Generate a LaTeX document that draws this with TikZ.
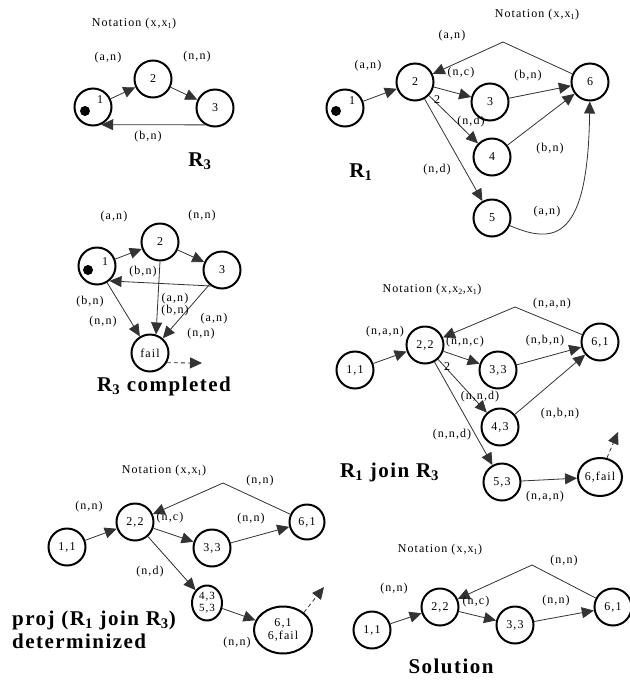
\documentclass[tikz,border=0pt]{standalone}
\usepackage{fontspec}
\setmainfont{Liberation Serif}
\newfontfamily\lblfamily[LetterSpace=9]{Liberation Serif}
\newfontfamily\ttlfamily[LetterSpace=7]{Liberation Serif}
\usetikzlibrary{arrows.meta,shapes.geometric}
\newcommand\lblsize{\lblfamily\fontsize{12}{13}\selectfont}
\newcommand\pairsize{\lblfamily\fontsize{11}{12}\selectfont}
\newcommand\ttlsize{\ttlfamily\bfseries\fontsize{21}{23}\selectfont}
\tikzset{
  st/.style={circle, draw, line width=2pt, minimum size=37pt, inner sep=0pt, font=\lblsize},
  est/.style={ellipse, draw, line width=2pt, inner sep=0pt, font=\lblsize, align=center},
  edge/.style={line width=0.8pt, draw=black!80, -{Triangle[length=12pt,width=11pt]}},
  dedge/.style={edge, dashed, dash pattern=on 4pt off 3pt},
  lbl/.style={font=\lblsize, inner sep=0pt},
  ttl/.style={font=\ttlsize, inner sep=0pt},
}
\begin{document}
\begin{tikzpicture}[x=1pt,y=-1pt]
\useasboundingbox[fill=white] (0,0) rectangle (630,681);

% ---------------- R3 ----------------
\node[lbl] (r3not) at (134,24) {Notation (x,x\textsubscript{1})};
\node[st] (r3n1) at (93,107) {};
\node[st] (r3n2) at (153,79) {2};
\node[st] (r3n3) at (215,108) {3};
\fill ([shift={(-8,4)}]r3n1.center) circle (5);
\node[lbl] (r3n1t) at ([shift={(7,-7)}]r3n1.center) {1};
\draw[edge] (r3n1) -- (r3n2);
\draw[edge] (r3n2) -- (r3n3);
\draw[edge] (r3n3.-120) -- (r3n1.-65);
\node[lbl] (r3l1) at (108,58) {(a,n)};
\node[lbl] (r3l2) at (197,57) {(n,n)};
\node[lbl] (r3l3) at (148,137) {(b,n)};
\node[ttl] (r3t) at (200,161) {R\textsubscript{3}};

% ---------------- R1 ----------------
\node[lbl] (r1not) at (537,15) {Notation (x,x\textsubscript{1})};
\node[st] (r1n1) at (345,108) {};
\node[st] (r1n2) at (415,82) {2};
\node[st] (r1n3) at (490,102) {3};
\node[st] (r1n4) at (492,157) {4};
\node[st] (r1n5) at (492,218) {5};
\node[st] (r1n6) at (590,82) {6};
\fill ([shift={(-9,3)}]r1n1.center) circle (5);
\node[lbl] (r1n1t) at ([shift={(7,-7)}]r1n1.center) {1};
\coordinate (r1b) at (503,42);
\draw[edge] (r1n1) -- (r1n2);
\draw[edge] (r1n2) -- (r1n3);
\draw[edge] (r1n2) -- (r1n4);
\draw[edge] (r1n2) -- (r1n5);
\draw[edge] (r1n3) -- (r1n6);
\draw[edge] (r1n4) -- (r1n6);
\draw[edge] (r1n5) .. controls (555,245) and (588,240) .. (r1n6);
\draw[edge] (r1n6) -- (r1b) -- (r1n2);
\node[lbl] (r1l1) at (452,36) {(a,n)};
\node[lbl] (r1l2) at (368,66) {(a,n)};
\node[lbl] (r1l3) at (461,73) {(n,c)};
\node[lbl] (r1l4) at (437,100) {2};
\node[lbl] (r1l5) at (471,122) {(n,d)};
\node[lbl] (r1l6) at (437,170) {(n,d)};
\node[lbl] (r1l7) at (528,76) {(b,n)};
\node[lbl] (r1l8) at (550,149) {(b,n)};
\node[lbl] (r1l9) at (547,212) {(a,n)};
\node[ttl] (r1t) at (361,172) {R\textsubscript{1}};

% ---------------- R3 completed ----------------
\node[st] (c1) at (97,266) {};
\node[st] (c2) at (160,242) {2};
\node[st] (c3) at (222,270) {3};
\node[st] (cf) at (150,353) {fail};
\fill ([shift={(-9,4)}]c1.center) circle (5);
\node[lbl] (c1t) at ([shift={(8,-4)}]c1.center) {1};
\coordinate (cfout) at (202,363);
\draw[edge] (c1) -- (c2);
\draw[edge] (c2) -- (c3);
\draw[edge] (c3.-125) -- (c1.-50);
\draw[edge] (c2.south) -- (cf.72);
\draw[edge] (c1) -- (cf);
\draw[edge] (c3) -- (cf);
\draw[dedge] (cf.-30) -- (cfout);
\node[lbl] (cl1) at (114,217) {(a,n)};
\node[lbl] (cl2) at (202,216) {(n,n)};
\node[lbl] (cl3) at (143,272) {(b,n)};
\node[lbl] (cl4) at (175,299) {(a,n)};
\node[lbl] (cl5) at (175,311) {(b,n)};
\node[lbl] (cl6) at (90,302) {(b,n)};
\node[lbl] (cl7) at (103,322) {(n,n)};
\node[lbl] (cl8) at (214,319) {(a,n)};
\node[lbl] (cl9) at (201,334) {(n,n)};
\node[ttl] (ct) at (164,386) {R\textsubscript{3} completed};

% ---------------- R1 join R3 ----------------
\node[lbl] (jnot) at (432,290) {Notation (x,x\textsubscript{2},x\textsubscript{1})};
\node[st] (j11) at (355,370) {1,1};
\node[st] (j22) at (425,345) {2,2};
\node[st] (j33) at (498,370) {3,3};
\node[st] (j43) at (500,427) {4,3};
\node[st] (j53) at (502,482) {5,3};
\node[st] (j61) at (600,342) {6,1};
\node[est, minimum width=44pt, minimum height=38pt] (j6f) at (600,477) {6,fail};
\coordinate (jb) at (515,307);
\coordinate (jstray) at (618,432);
\draw[edge] (j11) -- (j22);
\draw[edge] (j22) -- (j33);
\draw[edge] (j22) -- (j43);
\draw[edge] (j22) -- (j53);
\draw[edge] (j33) -- (j61);
\draw[edge] (j43) -- (j61);
\draw[edge] (j53) -- (j6f);
\draw[edge] (j61) -- (jb) -- (j22);
\draw[dedge] (j6f.70) -- (jstray);
\node[lbl] (jl1) at (552,304) {(n,a,n)};
\node[lbl] (jl2) at (385,332) {(n,a,n)};
\node[lbl] (jl3) at (465,342) {(n,n,c)};
\node[lbl] (jl4) at (447,367) {2};
\node[lbl] (jl5) at (545,341) {(n,b,n)};
\node[lbl] (jl6) at (480,397) {(n,n,d)};
\node[lbl] (jl7) at (560,414) {(n,b,n)};
\node[lbl] (jl8) at (452,435) {(n,n,d)};
\node[lbl] (jl9) at (545,497) {(n,a,n)};
\node[ttl, anchor=west] (jt) at (340,472) {R\textsubscript{1} join R\textsubscript{3}};

% ---------------- proj (R1 join R3) determinized ----------------
\node[lbl] (pnot) at (164,471) {Notation (x,x\textsubscript{1})};
\node[st] (p11) at (67,547) {1,1};
\node[st] (p22) at (135,522) {2,2};
\node[st] (p33) at (212,548) {3,3};
\node[st, minimum size=35pt] (p61) at (307,522) {6,1};
\node[est, minimum width=30pt, minimum height=35pt, font=\pairsize] (p45) at (207,603) {4,3\\5,3};
\node[est, minimum width=58pt, minimum height=47pt] (p6f) at (283,630) {6,1\\6,fail};
\coordinate (pb) at (223,483);
\coordinate (pstray) at (324,587);
\draw[edge] (p11) -- (p22);
\draw[edge] (p22) -- (p33);
\draw[edge] (p33) -- (p61);
\draw[edge] (p22) -- (p45);
\draw[edge] (p45) -- (p6f);
\draw[edge] (p61) -- (pb) -- (p22);
\draw[dedge] (p6f.40) -- (pstray);
\node[lbl] (pl1) at (260,481) {(n,n)};
\node[lbl] (pl2) at (89,507) {(n,n)};
\node[lbl] (pl3) at (170,518) {(n,c)};
\node[lbl] (pl4) at (251,519) {(n,n)};
\node[lbl] (pl5) at (150,572) {(n,d)};
\node[lbl] (pl6) at (237,643) {(n,n)};
\node[ttl, anchor=west, align=left] (pt) at (12,630) {proj (R\textsubscript{1} join R\textsubscript{3})\\determinized};

% ---------------- Solution ----------------
\node[lbl] (snot) at (440,550) {Notation (x,x\textsubscript{1})};
\node[st] (s11) at (372,630) {1,1};
\node[st] (s22) at (440,607) {2,2};
\node[st] (s33) at (515,625) {3,3};
\node[st] (s61) at (613,607) {6,1};
\coordinate (sb) at (532,565);
\draw[edge] (s11) -- (s22);
\draw[edge] (s22) -- (s33);
\draw[edge] (s33) -- (s61);
\draw[edge] (s61) -- (sb) -- (s22);
\node[lbl] (sl1) at (564,561) {(n,n)};
\node[lbl] (sl2) at (394,589) {(n,n)};
\node[lbl] (sl3) at (476,602) {(n,c)};
\node[lbl] (sl4) at (556,601) {(n,n)};
\node[ttl] (stt) at (451,666) {Solution};
\end{tikzpicture}
\end{document}
